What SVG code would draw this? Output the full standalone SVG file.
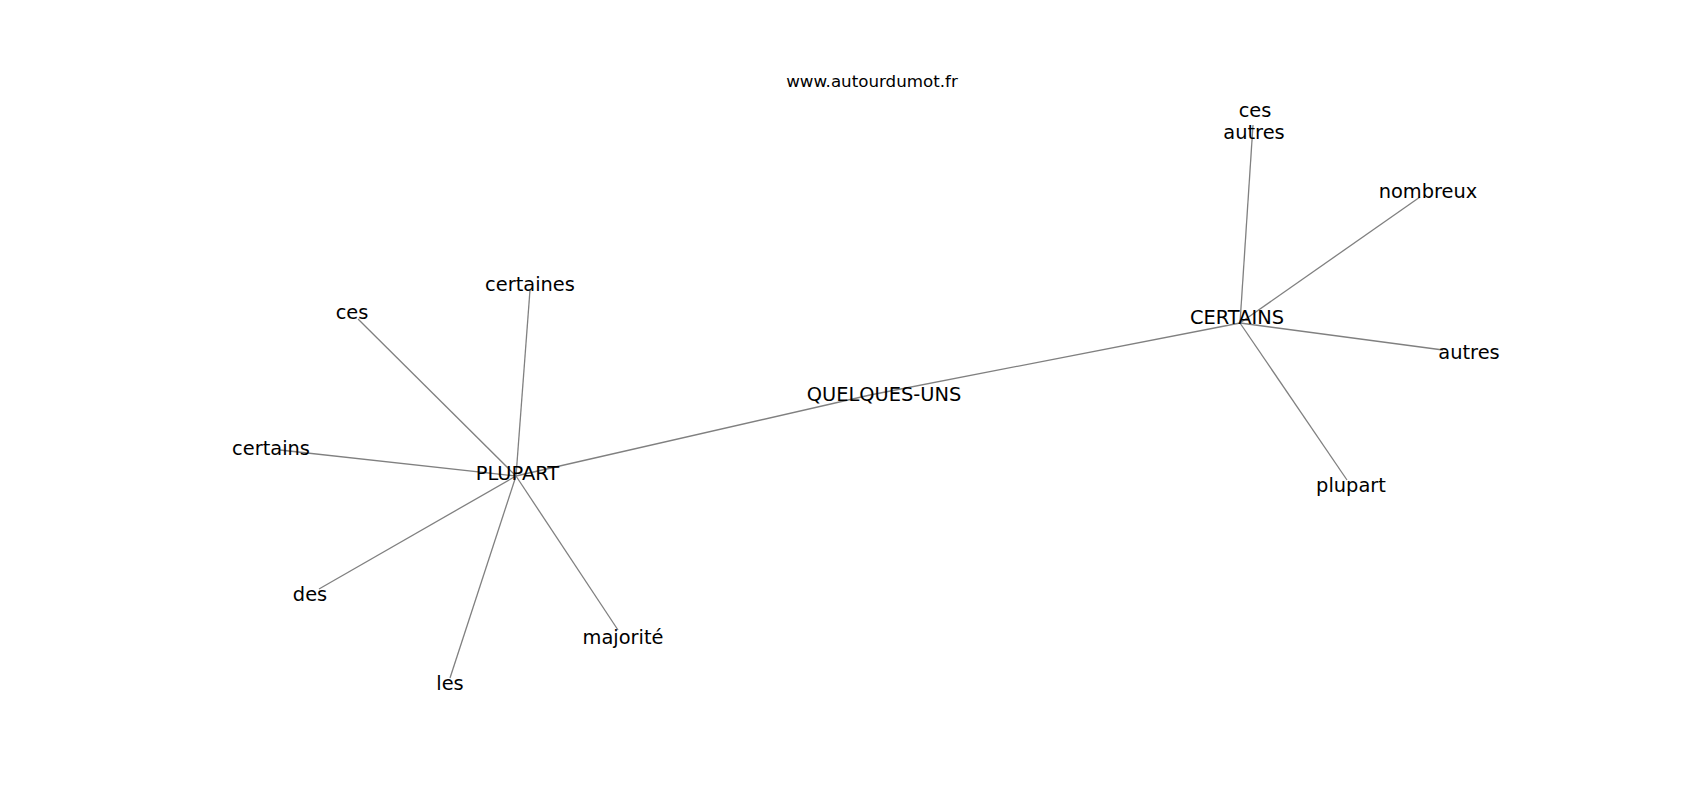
<svg xmlns="http://www.w3.org/2000/svg" width="1700" height="800" viewBox="0 0 1700 800">
<style>
.e{stroke:#808080;stroke-width:1.3;fill:none}
.l{font-family:"DejaVu Sans",sans-serif;font-size:19.4px;fill:#000;text-anchor:middle}
.t{font-family:"DejaVu Sans",sans-serif;font-size:16.7px;fill:#000;text-anchor:middle}
</style>
<rect width="1700" height="800" fill="#fff"/>
<text class="t" x="872" y="87.3">www.autourdumot.fr</text>
<g id="connectors">
<line class="e" x1="516" y1="476" x2="530" y2="290"/>
<line class="e" x1="516" y1="476" x2="358" y2="319"/>
<line class="e" x1="516" y1="476" x2="280" y2="450"/>
<line class="e" x1="516" y1="476" x2="319" y2="589"/>
<line class="e" x1="516" y1="476" x2="450" y2="678"/>
<line class="e" x1="516" y1="476" x2="618" y2="630"/>
<line class="e" x1="516" y1="476" x2="870" y2="395"/>
<line class="e" x1="870" y1="395" x2="1240" y2="323"/>
<line class="e" x1="1240" y1="323" x2="1253" y2="125"/>
<line class="e" x1="1240" y1="323" x2="1420" y2="197"/>
<line class="e" x1="1240" y1="323" x2="1443" y2="350"/>
<line class="e" x1="1240" y1="323" x2="1347" y2="480"/>
</g>
<g id="n-certaines"><text class="l" x="530" y="291">certaines</text></g>
<g id="n-ces"><text class="l" x="352" y="319">ces</text></g>
<g id="n-certains"><text class="l" x="271" y="455">certains</text></g>
<g id="n-plupart-main"><text class="l" x="517.5" y="479.5">PLUPART</text></g>
<g id="n-des"><text class="l" x="310" y="600.5">des</text></g>
<g id="n-les"><text class="l" x="450" y="690">les</text></g>
<g id="n-majorite"><text class="l" x="623" y="644">majorité</text></g>
<g id="n-quelques-uns"><text class="l" x="884" y="401">QUELQUES-UNS</text></g>
<g id="n-certains-main"><text class="l" x="1237" y="323.5">CERTAINS</text></g>
<g id="n-ces-autres"><text class="l" x="1255" y="117.3">ces</text><text class="l" x="1254" y="139.3">autres</text></g>
<g id="n-nombreux"><text class="l" x="1428" y="197.7">nombreux</text></g>
<g id="n-autres"><text class="l" x="1469" y="359">autres</text></g>
<g id="n-plupart"><text class="l" x="1351" y="491.5">plupart</text></g>
</svg>
